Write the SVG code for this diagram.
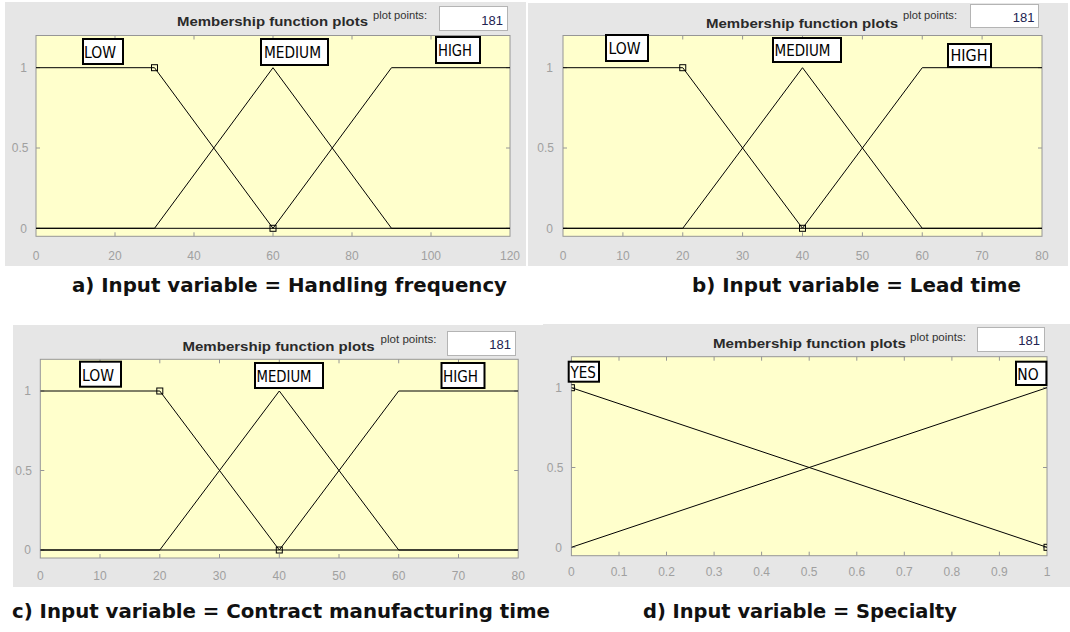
<svg xmlns="http://www.w3.org/2000/svg" width="1070" height="632" viewBox="0 0 1070 632">
<style>
.bg{fill:#e6e6e6}
.ax{fill:#ffffcc;stroke:#969696;stroke-width:1}
.tk{stroke:#969696;stroke-width:1;fill:none}
.tl{font-family:"Liberation Sans",Arial,sans-serif;font-size:12px;fill:#a0a0a0}
.tlx{text-anchor:middle}
.tly{text-anchor:end}
.mf{fill:none;stroke:#000;stroke-width:1}
.mk{fill:none;stroke:#000;stroke-width:1}
.lb{fill:#fff;stroke:#000;stroke-width:2}
.lt{font-family:"DejaVu Sans Condensed","DejaVu Sans","Liberation Sans",sans-serif;font-size:15px;fill:#000}
.ti{font-family:"Liberation Sans",Arial,sans-serif;font-size:13px;font-weight:bold;fill:#2a2a2a}
.pp{font-family:"Liberation Sans",Arial,sans-serif;font-size:10px;fill:#333}
.pb{fill:#fff;stroke:#b4b4b4;stroke-width:1}
.pn{font-family:"Liberation Sans",Arial,sans-serif;font-size:13px;fill:#222250;text-anchor:end}
.cap{font-family:"DejaVu Sans Condensed","DejaVu Sans",sans-serif;font-size:19px;font-weight:bold;fill:#111}
</style>
<defs>
<clipPath id="ca"><rect x="36" y="35.5" width="474" height="200.8"/></clipPath>
<clipPath id="cb"><rect x="563" y="35.5" width="479" height="200.8"/></clipPath>
<clipPath id="cc"><rect x="40.3" y="359.3" width="477.9" height="198.7"/></clipPath>
<clipPath id="cd"><rect x="571.4" y="356.7" width="475.6" height="199"/></clipPath>
</defs>

<g id="panel-a">
<rect class="bg" x="5" y="2" width="521" height="264"/>
<text class="ti" x="177" y="25.5" textLength="191" lengthAdjust="spacingAndGlyphs">Membership function plots</text>
<text class="pp" x="373" y="19" textLength="54" lengthAdjust="spacingAndGlyphs">plot points:</text>
<rect class="pb" x="439.5" y="6.5" width="68" height="24"/>
<text class="pn" x="503" y="24.5">181</text>
<rect class="ax" x="36" y="35.5" width="474" height="200.8"/>
<path class="tk" d="M115,35.5v4M194,35.5v4M273,35.5v4M352,35.5v4M431,35.5v4M115,236.3v-4M194,236.3v-4M273,236.3v-4M352,236.3v-4M431,236.3v-4M36,148h4M510,148h-4M36,67.7h4M510,67.7h-4M36,228.3h4M510,228.3h-4"/>
<g class="tl tlx">
<text x="36" y="260">0</text><text x="115" y="260">20</text><text x="194" y="260">40</text><text x="273" y="260">60</text><text x="352" y="260">80</text><text x="431" y="260">100</text><text x="510" y="260">120</text>
</g>
<g class="tl tly">
<text x="27" y="72">1</text><text x="28.5" y="152.3">0.5</text><text x="27" y="232.6">0</text>
</g>
<g clip-path="url(#ca)">
<polyline class="mf" points="36,67.7 154.5,67.7 273,228.3 510,228.3"/>
<polyline class="mf" points="36,228.3 154.5,228.3 273,67.7 391.5,228.3 510,228.3"/>
<polyline class="mf" points="36,228.3 273,228.3 391.5,67.7 510,67.7"/>
<rect class="mk" x="151.5" y="64.7" width="6" height="6"/>
<rect class="mk" x="270" y="225.3" width="6" height="6"/>
</g>
<rect class="lb" x="83" y="39" width="40" height="25"/>
<text class="lt" x="84" y="57.5" textLength="32" lengthAdjust="spacingAndGlyphs">LOW</text>
<rect class="lb" x="261" y="39" width="67" height="26"/>
<text class="lt" x="264" y="58" textLength="57" lengthAdjust="spacingAndGlyphs">MEDIUM</text>
<rect class="lb" x="436" y="37" width="44" height="26"/>
<text class="lt" x="438" y="56" textLength="34" lengthAdjust="spacingAndGlyphs">HIGH</text>
</g>

<g id="panel-b">
<rect class="bg" x="528" y="3" width="540" height="263"/>
<text class="ti" x="706" y="28" textLength="192" lengthAdjust="spacingAndGlyphs">Membership function plots</text>
<text class="pp" x="903" y="19" textLength="54" lengthAdjust="spacingAndGlyphs">plot points:</text>
<rect class="pb" x="970.5" y="4.5" width="68" height="23"/>
<text class="pn" x="1034.5" y="21.5">181</text>
<rect class="ax" x="563" y="35.5" width="479" height="200.8"/>
<path class="tk" d="M622.9,35.5v4M682.75,35.5v4M742.6,35.5v4M802.5,35.5v4M862.4,35.5v4M922.25,35.5v4M982.1,35.5v4M622.9,236.3v-4M682.75,236.3v-4M742.6,236.3v-4M802.5,236.3v-4M862.4,236.3v-4M922.25,236.3v-4M982.1,236.3v-4M563,148h4M1042,148h-4M563,67.7h4M1042,67.7h-4M563,228.3h4M1042,228.3h-4"/>
<g class="tl tlx">
<text x="563" y="260">0</text><text x="622.9" y="260">10</text><text x="682.75" y="260">20</text><text x="742.6" y="260">30</text><text x="802.5" y="260">40</text><text x="862.4" y="260">50</text><text x="922.25" y="260">60</text><text x="982.1" y="260">70</text><text x="1042" y="260">80</text>
</g>
<g class="tl tly">
<text x="553" y="72">1</text><text x="554" y="152.3">0.5</text><text x="553" y="232.6">0</text>
</g>
<g clip-path="url(#cb)">
<polyline class="mf" points="563,67.7 682.75,67.7 802.5,228.3 1042,228.3"/>
<polyline class="mf" points="563,228.3 682.75,228.3 802.5,67.7 922.25,228.3 1042,228.3"/>
<polyline class="mf" points="563,228.3 802.5,228.3 922.25,67.7 1042,67.7"/>
<rect class="mk" x="679.75" y="64.7" width="6" height="6"/>
<rect class="mk" x="799.5" y="225.3" width="6" height="6"/>
</g>
<rect class="lb" x="606" y="35" width="42" height="26"/>
<text class="lt" x="608.5" y="54" textLength="32" lengthAdjust="spacingAndGlyphs">LOW</text>
<rect class="lb" x="773" y="38" width="68" height="24"/>
<text class="lt" x="774.5" y="56" textLength="56" lengthAdjust="spacingAndGlyphs">MEDIUM</text>
<rect class="lb" x="948" y="44" width="43" height="23"/>
<text class="lt" x="950.5" y="61" textLength="37" lengthAdjust="spacingAndGlyphs">HIGH</text>
</g>

<g id="panel-c">
<rect class="bg" x="13" y="325" width="530" height="262"/>
<text class="ti" x="182.5" y="350.5" textLength="192" lengthAdjust="spacingAndGlyphs">Membership function plots</text>
<text class="pp" x="380.5" y="343" textLength="56" lengthAdjust="spacingAndGlyphs">plot points:</text>
<rect class="pb" x="447.5" y="331.5" width="68" height="24"/>
<text class="pn" x="511" y="348.5">181</text>
<rect class="ax" x="40.3" y="359.3" width="477.9" height="198.7"/>
<path class="tk" d="M100,359.3v4M159.8,359.3v4M219.5,359.3v4M279.3,359.3v4M339,359.3v4M398.7,359.3v4M458.5,359.3v4M100,558v-4M159.8,558v-4M219.5,558v-4M279.3,558v-4M339,558v-4M398.7,558v-4M458.5,558v-4M40.3,470.5h4M518.2,470.5h-4M40.3,391h4M518.2,391h-4M40.3,550h4M518.2,550h-4"/>
<g class="tl tlx">
<text x="40.3" y="580">0</text><text x="100" y="580">10</text><text x="159.8" y="580">20</text><text x="219.5" y="580">30</text><text x="279.3" y="580">40</text><text x="339" y="580">50</text><text x="398.7" y="580">60</text><text x="458.5" y="580">70</text><text x="518.2" y="580">80</text>
</g>
<g class="tl tly">
<text x="31" y="395.3">1</text><text x="32" y="474.8">0.5</text><text x="31" y="554.3">0</text>
</g>
<g clip-path="url(#cc)">
<polyline class="mf" points="40.3,391 159.8,391 279.3,550 518.2,550"/>
<polyline class="mf" points="40.3,550 159.8,550 279.3,391 398.7,550 518.2,550"/>
<polyline class="mf" points="40.3,550 279.3,550 398.7,391 518.2,391"/>
<rect class="mk" x="156.8" y="388" width="6" height="6"/>
<rect class="mk" x="276.3" y="547" width="6" height="6"/>
</g>
<rect class="lb" x="80" y="361.7" width="41" height="25"/>
<text class="lt" x="82" y="380.5" textLength="32" lengthAdjust="spacingAndGlyphs">LOW</text>
<rect class="lb" x="255" y="363" width="68" height="25"/>
<text class="lt" x="256.5" y="382" textLength="55" lengthAdjust="spacingAndGlyphs">MEDIUM</text>
<rect class="lb" x="441.5" y="363" width="43" height="25"/>
<text class="lt" x="443" y="382" textLength="35" lengthAdjust="spacingAndGlyphs">HIGH</text>
</g>

<g id="panel-d">
<rect class="bg" x="543" y="324" width="527" height="263"/>
<text class="ti" x="713" y="348" textLength="193" lengthAdjust="spacingAndGlyphs">Membership function plots</text>
<text class="pp" x="910" y="340.5" textLength="56" lengthAdjust="spacingAndGlyphs">plot points:</text>
<rect class="pb" x="977.5" y="327.5" width="67" height="24"/>
<text class="pn" x="1040" y="345">181</text>
<rect class="ax" x="571.4" y="356.7" width="475.6" height="199"/>
<path class="tk" d="M619,356.7v4M666.5,356.7v4M714.1,356.7v4M761.6,356.7v4M809.2,356.7v4M856.8,356.7v4M904.3,356.7v4M951.9,356.7v4M999.4,356.7v4M619,555.7v-4M666.5,555.7v-4M714.1,555.7v-4M761.6,555.7v-4M809.2,555.7v-4M856.8,555.7v-4M904.3,555.7v-4M951.9,555.7v-4M999.4,555.7v-4M571.4,467.5h4M1047,467.5h-4M571.4,387.7h4M1047,387.7h-4M571.4,547.3h4M1047,547.3h-4"/>
<g class="tl tlx">
<text x="571.4" y="575.5">0</text><text x="619" y="575.5">0.1</text><text x="666.5" y="575.5">0.2</text><text x="714.1" y="575.5">0.3</text><text x="761.6" y="575.5">0.4</text><text x="809.2" y="575.5">0.5</text><text x="856.8" y="575.5">0.6</text><text x="904.3" y="575.5">0.7</text><text x="951.9" y="575.5">0.8</text><text x="999.4" y="575.5">0.9</text><text x="1047" y="575.5">1</text>
</g>
<g class="tl tly">
<text x="562" y="392">1</text><text x="563.5" y="471.8">0.5</text><text x="562" y="551.6">0</text>
</g>
<g clip-path="url(#cd)">
<line class="mf" x1="571.4" y1="387.7" x2="1047" y2="547.3"/>
<line class="mf" x1="571.4" y1="547.3" x2="1047" y2="387.7"/>
<rect class="mk" x="568.4" y="384.7" width="6" height="6"/>
<rect class="mk" x="1044" y="544.3" width="6" height="6"/>
</g>
<rect class="lb" x="568.7" y="361.7" width="30.3" height="20"/>
<text class="lt" x="570.4" y="378" textLength="25.4" lengthAdjust="spacingAndGlyphs">YES</text>
<rect class="lb" x="1016" y="361.7" width="30.4" height="23.3"/>
<text class="lt" x="1017.3" y="380" textLength="21.3" lengthAdjust="spacingAndGlyphs">NO</text>
</g>

<g id="captions">
<text class="cap" x="72" y="292" textLength="435" lengthAdjust="spacingAndGlyphs">a) Input variable = Handling frequency</text>
<text class="cap" x="692" y="292" textLength="329" lengthAdjust="spacingAndGlyphs">b) Input variable = Lead time</text>
<text class="cap" x="12" y="618" textLength="538" lengthAdjust="spacingAndGlyphs">c) Input variable = Contract manufacturing time</text>
<text class="cap" x="643" y="618" textLength="314" lengthAdjust="spacingAndGlyphs">d) Input variable = Specialty</text>
</g>
</svg>
